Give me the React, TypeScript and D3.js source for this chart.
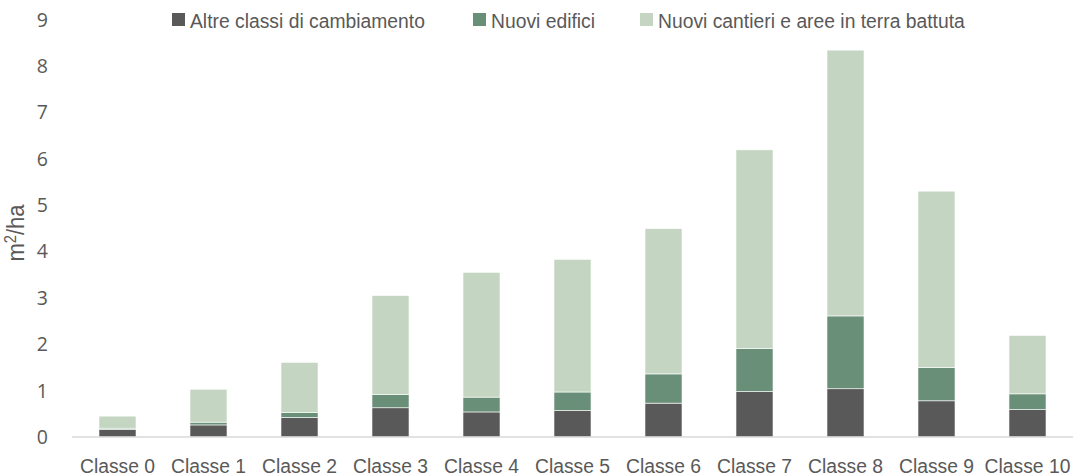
import React from "react";
import * as d3 from "d3";

// Changes per density class, m²/ha, stacked by type of change
const categories = [
  "Classe 0", "Classe 1", "Classe 2", "Classe 3", "Classe 4", "Classe 5",
  "Classe 6", "Classe 7", "Classe 8", "Classe 9", "Classe 10",
];
const altreClassi = [0.16, 0.26, 0.42, 0.63, 0.54, 0.57, 0.73, 0.98, 1.04, 0.78, 0.59];
const nuoviEdifici = [0.03, 0.06, 0.11, 0.29, 0.32, 0.40, 0.63, 0.93, 1.57, 0.72, 0.34];
const nuoviCantieri = [0.26, 0.71, 1.08, 2.13, 2.69, 2.86, 3.13, 4.28, 5.73, 3.80, 1.26];
const yTicks = [0, 1, 2, 3, 4, 5, 6, 7, 8, 9];

const seriesKeys = ["altre", "edifici", "cantieri"];
const seriesNames = ["Altre classi di cambiamento", "Nuovi edifici", "Nuovi cantieri e aree in terra battuta"];
const seriesColors = ["#595959", "#698f78", "#c4d6c2"];

const W = 1083;
const H = 476;
const left = 72;
const right = 1073;
const baseY = 437;
const topY = 19.5;
const sans = "'Liberation Sans', Arial, sans-serif";
// condensed look for the Arial-style labels
const squeeze = 0.92;

export default function App() {
  const rows = categories.map((c, i) => ({
    cat: c,
    altre: altreClassi[i],
    edifici: nuoviEdifici[i],
    cantieri: nuoviCantieri[i],
  }));
  const stacked = d3.stack<any>().keys(seriesKeys)(rows);

  const gap = 0.593;
  const x = d3.scaleBand<string>().domain(categories).range([left, right])
    .paddingInner(gap).paddingOuter(gap / 2);
  const y = d3.scaleLinear().domain([0, 9]).range([baseY, topY]);

  const legendX = [172, 473, 640];

  return (
    <svg width={W} height={H} style={{ position: "absolute", left: 0, top: 0, background: "#fff" }}>
      {/* stacked bars */}
      {stacked.map((s, si) => (
        <g key={s.key} fill={seriesColors[si]}>
          {s.map((d, i) => (
            <rect
              key={i}
              x={x(categories[i])}
              width={x.bandwidth()}
              y={y(d[1])}
              height={Math.max(0, y(d[0]) - y(d[1]))}
              stroke="#ffffff"
              strokeWidth={0.6}
            />
          ))}
        </g>
      ))}

      {/* baseline */}
      <line x1={left} x2={right} y1={baseY} y2={baseY} stroke="#d9d9d9" strokeWidth={1.5} />

      {/* y tick labels */}
      {yTicks.map((t) => (
        <text key={t} x={48} y={y(t)} dy="0.36em" textAnchor="end"
          fontFamily="'Open Sans', sans-serif" fontSize={19.5} fill="#595959">
          {t}
        </text>
      ))}

      {/* y axis title */}
      <text transform={`translate(24,233) rotate(-90) scale(${squeeze},1)`} textAnchor="middle"
        fontFamily={sans} fontSize={24} fill="#595959">
        m<tspan dy="-8" fontSize={16}>2</tspan><tspan dy="8">/ha</tspan>
      </text>

      {/* x labels */}
      {categories.map((c) => (
        <text key={c}
          transform={`translate(${(x(c) as number) + x.bandwidth() / 2},472.5) scale(${squeeze},1)`}
          textAnchor="middle" fontFamily={sans}
          fontSize={21} fill="#595959">
          {c}
        </text>
      ))}

      {/* legend */}
      {seriesNames.map((n, i) => (
        <g key={n}>
          <rect x={legendX[i]} y={13} width={13} height={13} fill={seriesColors[i]} />
          <text transform={`translate(${legendX[i] + 18},27.5) scale(${squeeze},1)`}
            fontFamily={sans} fontSize={21} fill="#595959">
            {n}
          </text>
        </g>
      ))}
    </svg>
  );
}
